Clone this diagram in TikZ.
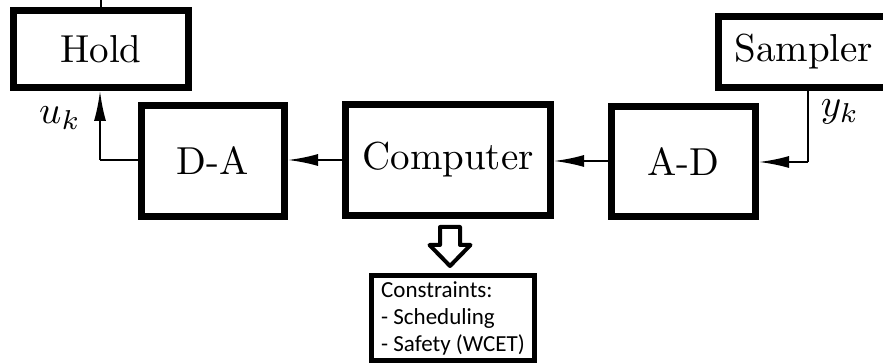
\documentclass[tikz,border=0pt]{standalone}
\usepackage{fontspec}
\usepackage{graphicx}
\newfontfamily\notefont{Carlito}
\usetikzlibrary{arrows.meta}
% 10pt design size enlarged, for block captions and signal labels
\newcommand{\blocktext}[1]{\scalebox{3.9}{#1}}
\begin{document}
\begin{tikzpicture}[x=1pt,y=-1pt,
  block/.style={draw, line width=7pt, inner sep=0pt, font=\fontsize{10}{12}\selectfont},
  notebox/.style={draw, line width=5pt, inner xsep=6pt, inner ysep=0pt,
    font=\notefont\fontsize{23}{27}\selectfont, align=left},
  flow/.style={line width=2pt, -{Latex[length=30pt,width=12pt]}},
  lbl/.style={font=\fontsize{10}{12}\selectfont, inner sep=0pt}]
\useasboundingbox (0,0) rectangle (883,363);
\clip (0,0) rectangle (883,363);
\fill[white] (0,0) rectangle (883,363);

% blocks of the sampled-data loop
\node[block, minimum width=175pt, minimum height=77pt]   (hold) at (101,49)      {\blocktext{Hold}};
\node[block, minimum width=143pt, minimum height=111pt]  (da)   at (213,161)     {\blocktext{D-A}};
\node[block, minimum width=205pt, minimum height=111pt]  (comp) at (448,160)     {\blocktext{Computer}};
\node[block, minimum width=144pt, minimum height=110pt]  (ad)   at (683.5,161.5) {\blocktext{A-D}};
\node[block, minimum width=170.5pt, minimum height=71pt] (samp) at (803.75,52)   {\blocktext{Sampler}};

% constraints on the computer
\node[notebox, minimum width=163pt, minimum height=85pt] (cons) at (453,318)
  {Constraints:\\- Scheduling\\- Safety (WCET)};

% signal flow
\coordinate (holdin) at (101,0);
\coordinate (ukcorner) at (100,160);
\coordinate (ykcorner) at (808,162);
\draw[line width=1.5pt] (hold.north) -- (holdin);
\draw[flow] (ad.west |- 0,161) -- (comp.east |- 0,161);
\draw[flow] (comp.west |- 0,160) -- (da.east |- 0,160);
\draw[line width=2pt] (da.west |- 0,160) -- (ukcorner);
\draw[flow] (ukcorner) -- (ukcorner |- hold.south);
\draw[line width=2pt] (samp.south -| ykcorner) -- (ykcorner);
\draw[flow] (ykcorner) -- (ykcorner -| ad.east);

\node[lbl] (uk) at (60,118) {\blocktext{$u_k$}};
\node[lbl] (yk) at (840,112) {\blocktext{$y_k$}};

% hollow arrow from the computer down to its constraints
\draw[line width=4pt, line join=round, fill=white]
  (440,227) -- (460,227) -- (460,245) -- (470.5,245) -- (450,266)
  -- (429.5,245) -- (440,245) -- cycle;
\end{tikzpicture}
\end{document}
